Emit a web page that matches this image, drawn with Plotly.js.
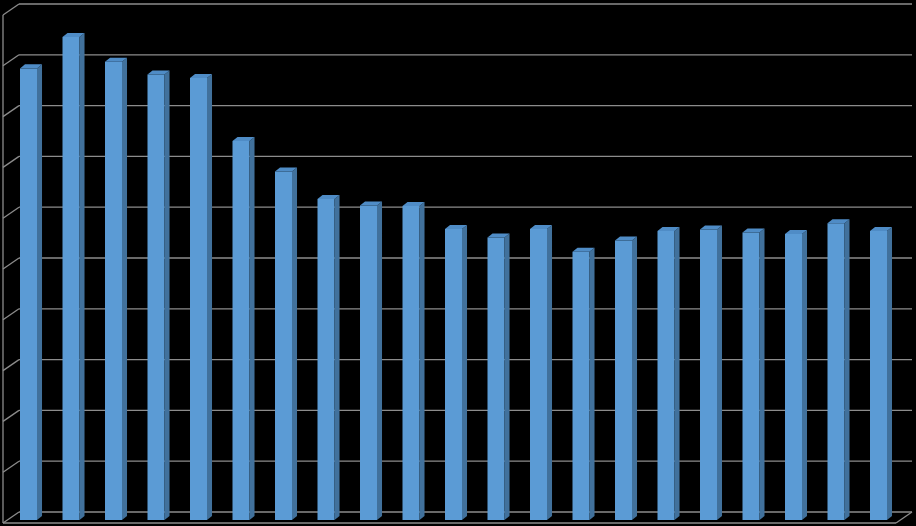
<!DOCTYPE html>
<html>
<head>
<meta charset="utf-8">
<script src="https://cdn.plot.ly/plotly-3.0.1.min.js"></script>
<style>html,body{margin:0;padding:0;background:#000;}#chart{width:916px;height:526px;}</style>
</head>
<body>
<div id="chart"></div>
<script>
// Data (in gridline units)
var categories = ["1","2","3","4","5","6","7","8","9","10","11","12","13","14","15","16","17","18","19","20","21"];
var values = [8.89, 9.51, 9.02, 8.77, 8.70, 7.46, 6.86, 6.32, 6.19, 6.18, 5.73, 5.56, 5.73, 5.28, 5.50, 5.69, 5.72, 5.66, 5.63, 5.84, 5.69];
var gridValues = [0,1,2,3,4,5,6,7,8,9,10];

// Styling / geometry
var barW = 0.4;          // bar width in category units
var sideDx = 0.118;      // bar depth offset (x units)
var sideDy = 0.079;      // bar depth offset (y units)
var frontColor = '#5b9bd5';
var sideColor = '#41719c';
var topColor = '#4f8cc6';
var gridColor = '#8c8c8c';

var xs = categories.map(function(c, i){ return i; });

// Side and top faces built from data values
var sideX = [], sideY = [], topX = [], topY = [];
xs.forEach(function(i, k){
  var v = values[k];
  var r = i + barW/2, l = i - barW/2;
  sideX.push(r, r, r+sideDx, r+sideDx, r, null);
  sideY.push(0, v, v+sideDy, sideDy, 0, null);
  topX.push(l, r, r+sideDx, l+sideDx, l, null);
  topY.push(v, v, v+sideDy, v+sideDy, v, null);
});

var traces = [
  {type:'bar', x:xs, y:values, width:barW, marker:{color:frontColor, line:{width:0}}, hoverinfo:'skip'},
  {type:'scatter', mode:'lines', x:sideX, y:sideY, fill:'toself', fillcolor:sideColor, line:{width:0, color:sideColor}, hoverinfo:'skip'},
  {type:'scatter', mode:'lines', x:topX, y:topY, fill:'toself', fillcolor:topColor, line:{width:0, color:topColor}, hoverinfo:'skip'}
];

// Axis mapping: category i -> pixel 28.5 + 42.5 i ; value v -> pixel 520 - 50.8 v
var pxPerX = 42.5, x0 = 28.5, pxPerY = 50.8, y0 = 520;
function xpx(p){ return (p - x0)/pxPerX; }
function ypx(p){ return (y0 - p)/pxPerY; }

var shapes = [];
var backOff = ypx(512);   // back wall zero level
var frontOff = ypx(523);  // floor front zero level
var xFront = xpx(3), xBack = xpx(19), xRight = xpx(912), xFrontRight = xpx(896);
var ln = {color:gridColor, width:1.3};
gridValues.forEach(function(g){
  shapes.push({type:'line', layer:'below', x0:xBack, x1:xRight, y0:g+backOff, y1:g+backOff, line:ln});
  shapes.push({type:'line', layer:'below', x0:xFront, x1:xBack, y0:g+frontOff, y1:g+backOff, line:ln});
});
shapes.push({type:'line', layer:'below', x0:xFront, x1:xFront, y0:frontOff, y1:gridValues[gridValues.length-1]+frontOff, line:ln});
shapes.push({type:'line', layer:'below', x0:xFront, x1:xFrontRight, y0:frontOff, y1:frontOff, line:ln});
shapes.push({type:'line', layer:'below', x0:xFrontRight, x1:xRight, y0:frontOff, y1:backOff, line:ln});

var layout = {
  width:916, height:526,
  margin:{l:0, r:0, t:0, b:0, pad:0},
  paper_bgcolor:'#000', plot_bgcolor:'#000',
  showlegend:false,
  xaxis:{range:[xpx(0), xpx(916)], showgrid:false, zeroline:false, showticklabels:false, ticks:'', fixedrange:true},
  yaxis:{range:[ypx(526), ypx(0)], showgrid:false, zeroline:false, showticklabels:false, ticks:'', fixedrange:true},
  shapes:shapes
};

Plotly.newPlot('chart', traces, layout, {displayModeBar:false, staticPlot:true});
</script>
</body>
</html>
